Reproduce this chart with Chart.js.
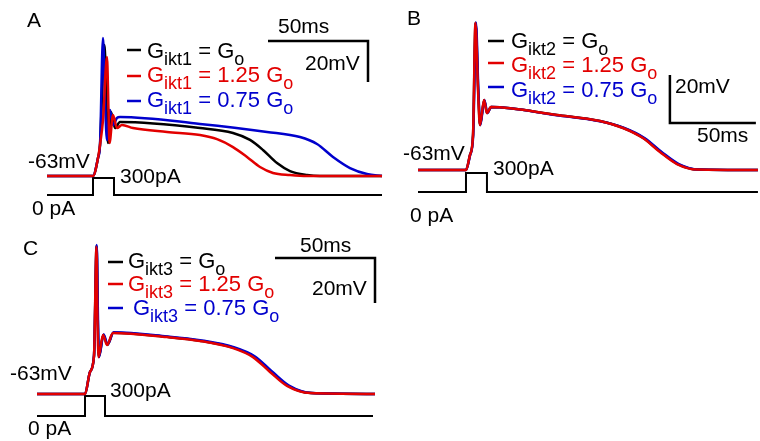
<!DOCTYPE html>
<html>
<head>
<meta charset="utf-8">
<title>Gikt traces</title>
<script src="https://cdn.jsdelivr.net/npm/chart.js@4.4.0/dist/chart.umd.min.js"></script>
<style>
  body { margin: 0; background: #fff; width: 760px; height: 441px; overflow: hidden; position: relative; }
  canvas { position: absolute; }
</style>
</head>
<body>
<canvas id="chartA" width="390" height="220" style="left:0px;top:0px"></canvas>
<canvas id="chartB" width="370" height="235" style="left:390px;top:0px"></canvas>
<canvas id="chartC" width="400" height="221" style="left:0px;top:220px"></canvas>
<script>
// Colours
const RED = 'rgb(226, 0, 0)';
const BLUE = 'rgb(0, 0, 205)';
const BLACK = '#000';
const FONT = '21px "Liberation Sans", Arial, sans-serif';
const FONT_BIG = '22px "Liberation Sans", Arial, sans-serif';
const FONT_SUB = '18px "Liberation Sans", Arial, sans-serif';

// ---- Panel A (Gikt1) : time in ms from stimulus onset, voltage in mV ----
const aTimeRed = [-23, 0, 2.5, 3.5, 5, 7, 7.75, 8.25, 10, 12, 14.5, 20, 37, 53.5, 62, 70, 77, 83.5, 90, 98.5, 107, 144.5];
const aVoltRed = [-63, -63, -54.2, -47.9, -35.7, -5.0, -30.8, -46.9, -33.2, -39.6, -38.1, -39.6, -41.5, -43.0, -45.0, -48.9, -53.7, -58.6, -61.5, -62.5, -63, -63];
const aTimeBlue = [-23, 0, 2.5, 3.5, 5, 6, 7, 8.5, 10, 12, 13.5, 53.5, 87, 103.5, 112, 120, 128.5, 137, 144.5];
const aVoltBlue = [-63, -63, -54.2, -47.9, 4.3, -25.9, -45.4, -30.8, -38.1, -34.7, -34.2, -37.6, -41.5, -44.0, -47.4, -53.7, -59.1, -62.0, -63];
const aTimeBlack = [-23, 0, 2.5, 3.5, 5.75, 6.75, 7.5, 9, 11, 13.5, 53.5, 70, 78.5, 85, 92, 98.5, 107, 113.5, 144.5];
const aVoltBlack = [-63, -63, -54.2, -47.9, 0.9, -28.4, -46.9, -31.8, -39.6, -36.7, -39.6, -42.0, -45.4, -50.3, -56.7, -60.6, -62.5, -63, -63];
const aTimeStim = [-23, 0, 0, 10.5, 10.5, 144.5];
const aStim = [0, 0, 300, 300, 0, 0];
const aBarTime = [87.5, 137.5, 137.5];
const aBarVolt = [2.85, 2.85, -17.15];

// ---- Panel B (Gikt2) ----
const bTimeRed = [-27.9, 0, 2.3, 4.1, 5.5, 7.0, 8.1, 10.5, 12.2, 14.5, 52.9, 77.9, 91.3, 102.9, 112.8, 122.7, 134.3, 169.8];
const bVoltRed = [-63, -63, -56.8, -48.4, -1.8, -29.7, -44.3, -33.8, -39.3, -36.8, -40.1, -42.6, -45.5, -49.7, -55.5, -60.5, -62.8, -63];
const bTimeBlue = [-27.9, 0, 2.4, 4.2, 5.8, 7.2, 8.3, 10.7, 12.4, 14.7, 52.9, 77.9, 92.0, 103.8, 113.8, 123.8, 135.5, 169.8];
const bVoltBlue = [-63, -63, -56.8, -48.4, -1.5, -29.7, -44.3, -33.8, -39.3, -36.8, -40.2, -42.7, -45.5, -49.7, -55.5, -60.5, -62.8, -63];
const bTimeBlack = [-27.9, 0, 2.3, 4.1, 5.6, 7.1, 8.2, 10.6, 12.3, 14.6, 52.9, 77.9, 91.6, 103.3, 113.3, 123.2, 134.9, 169.8];
const bVoltBlack = [-63, -63, -56.8, -48.4, -1.6, -29.7, -44.3, -33.8, -39.3, -36.8, -40.1, -42.6, -45.5, -49.7, -55.5, -60.5, -62.8, -63];
const bTimeStim = [-27.9, 0, 0, 12.2, 12.2, 169.8];
const bStim = [0, 0, 300, 300, 0, 0];
const bBarTime = [118.6, 118.6, 168.6];
const bBarVolt = [-23.4, -43.4, -43.4];

// ---- Panel C (Gikt3) ----
const cTimeRed = [-24, 0, 2.5, 4.5, 5.75, 6.25, 6.75, 9, 11, 14, 41, 57.5, 74, 84, 92.5, 101, 112.5, 145];
const cVoltRed = [-63, -63, -53.2, -46.1, 2.3, -30.1, -46.6, -36.8, -41.2, -35.9, -37.7, -39.4, -42.6, -46.6, -53.2, -59.4, -62.6, -63];
const cTimeBlue = [-24, 0, 2.5, 4.5, 5.9, 6.5, 7.0, 9.3, 11.3, 14.3, 41, 57.5, 74.8, 85, 93.5, 102, 113.5, 145];
const cVoltBlue = [-63, -63, -53.2, -46.1, 3.2, -30.1, -46.6, -36.6, -41.0, -35.6, -37.4, -39.1, -42.3, -46.3, -53.0, -59.3, -62.6, -63];
const cTimeBlack = [-24, 0, 2.5, 4.5, 5.8, 6.4, 6.9, 9.2, 11.2, 14.2, 41, 57.5, 74.5, 84.6, 93.1, 101.6, 113, 145];
const cVoltBlack = [-63, -63, -53.2, -46.1, 2.8, -30.1, -46.6, -36.7, -41.1, -35.8, -37.6, -39.3, -42.5, -46.5, -53.1, -59.4, -62.6, -63];
const cTimeStim = [-24, 0, 0, 10, 10, 144];
const cStim = [0, 0, 300, 300, 0, 0];
const cBarTime = [95, 145, 145];
const cBarVolt = [-2.56, -2.56, -22.56];

// Text labels [text, x, baseline] in page pixels
const aLabels = [['A', 27, 27], ['-63mV', 28, 168], ['300pA', 120, 183], ['0 pA', 32, 215], ['50ms', 278, 33], ['20mV', 305, 70]];
const bLabels = [['B', 407, 25], ['-63mV', 403, 160], ['300pA', 493, 175], ['0 pA', 410, 222], ['20mV', 675, 93], ['50ms', 697, 142]];
const cLabels = [['C', 23, 255], ['-63mV', 10, 380], ['300pA', 110, 397], ['0 pA', 28, 435], ['50ms', 300, 252], ['20mV', 312, 295]];

const legendValues = ['', '1.25 ', '0.75 '];
const legendColors = [BLACK, RED, BLUE];

function xy(ts, vs) {
    return ts.map((t, i) => ({ x: t, y: vs[i] }));
}

function trace(color, ts, vs, width) {
    return {
        data: xy(ts, vs),
        borderColor: color,
        borderWidth: width || 2.5,
        pointRadius: 0,
        cubicInterpolationMode: 'monotone',
        yAxisID: 'y'
    };
}

function straight(color, ts, vs, axis, width) {
    return {
        data: xy(ts, vs),
        borderColor: color,
        borderWidth: width,
        pointRadius: 0,
        tension: 0,
        yAxisID: axis
    };
}

// Draws labels and the subscripted legend over the traces
function textPlugin(left, top, labels, legend) {
    return {
        id: 'panelText',
        afterDraw(chart) {
            const ctx = chart.ctx;
            ctx.save();
            ctx.textBaseline = 'alphabetic';
            ctx.fillStyle = BLACK;
            ctx.font = FONT;
            labels.forEach(l => ctx.fillText(l[0], l[1] - left, l[2] - top));

            legend.rows.forEach((row, i) => {
                const color = legendColors[i];
                ctx.strokeStyle = color;
                ctx.lineWidth = 2.5;
                ctx.beginPath();
                ctx.moveTo(legend.dash[0] - left, row[0] - top);
                ctx.lineTo(legend.dash[1] - left, row[0] - top);
                ctx.stroke();

                let x = row[2] - left;
                const y = row[1] - top;
                ctx.fillStyle = color;
                ctx.font = FONT_BIG;
                ctx.fillText('G', x, y);
                x += ctx.measureText('G').width;
                ctx.font = FONT_SUB;
                ctx.fillText(legend.sub, x, y + 7);
                x += ctx.measureText(legend.sub).width;
                ctx.font = FONT_BIG;
                const mid = ' = ' + legendValues[i] + 'G';
                ctx.fillText(mid, x, y);
                x += ctx.measureText(mid).width;
                ctx.font = FONT_SUB;
                ctx.fillText('o', x, y + 7);
            });
            ctx.restore();
        }
    };
}

function makePanel(id, p) {
    const ctx = document.getElementById(id).getContext('2d');
    return new Chart(ctx, {
        type: 'line',
        data: {
            datasets: [
                trace(RED, p.red[0], p.red[1]),
                trace(BLUE, p.blue[0], p.blue[1]),
                trace(BLACK, p.black[0], p.black[1]),
                straight(BLACK, p.stim[0], p.stim[1], 'yI', 2),
                straight(BLACK, p.bar[0], p.bar[1], 'y', 2.5)
            ]
        },
        options: {
            responsive: false,
            animation: false,
            layout: { padding: 0 },
            events: [],
            scales: {
                x: { type: 'linear', display: false, min: p.x[0], max: p.x[1] },
                y: { type: 'linear', display: false, min: p.y[0], max: p.y[1] },
                yI: { type: 'linear', display: false, min: p.i[0], max: p.i[1] }
            },
            plugins: {
                legend: { display: false },
                tooltip: { enabled: false }
            }
        },
        plugins: [textPlugin(p.left, p.top, p.labels, p.legend)]
    });
}

document.addEventListener('DOMContentLoaded', () => {
    makePanel('chartA', {
        left: 0, top: 0,
        x: [-46.5, 148.5], y: [-84.46, 22.85], i: [-441, 3441],
        red: [aTimeRed, aVoltRed], blue: [aTimeBlue, aVoltBlue], black: [aTimeBlack, aVoltBlack],
        stim: [aTimeStim, aStim], bar: [aBarTime, aBarVolt],
        labels: aLabels,
        legend: { sub: 'ikt1', dash: [127, 141], rows: [[50, 58, 147], [76, 82, 147], [101, 107, 147]] }
    });
    makePanel('chartB', {
        left: 390, top: 0,
        x: [-44.19, 171.0], y: [-90.08, 7.83], i: [-679, 3032],
        red: [bTimeRed, bVoltRed], blue: [bTimeBlue, bVoltBlue], black: [bTimeBlack, bVoltBlack],
        stim: [bTimeStim, bStim], bar: [bBarTime, bBarVolt],
        labels: bLabels,
        legend: { sub: 'ikt2', dash: [488, 504], rows: [[41, 48, 511], [63, 72, 511], [87, 97, 511]] }
    });
    makePanel('chartC', {
        left: 0, top: 220,
        x: [-42.5, 157.5], y: [-83.89, 14.33], i: [-375, 2940],
        red: [cTimeRed, cVoltRed], blue: [cTimeBlue, cVoltBlue], black: [cTimeBlack, cVoltBlack],
        stim: [cTimeStim, cStim], bar: [cBarTime, cBarVolt],
        labels: cLabels,
        legend: { sub: 'ikt3', dash: [108, 123], rows: [[262, 268, 128], [284, 291, 128], [308, 315, 133]] }
    });
});
</script>
</body>
</html>
